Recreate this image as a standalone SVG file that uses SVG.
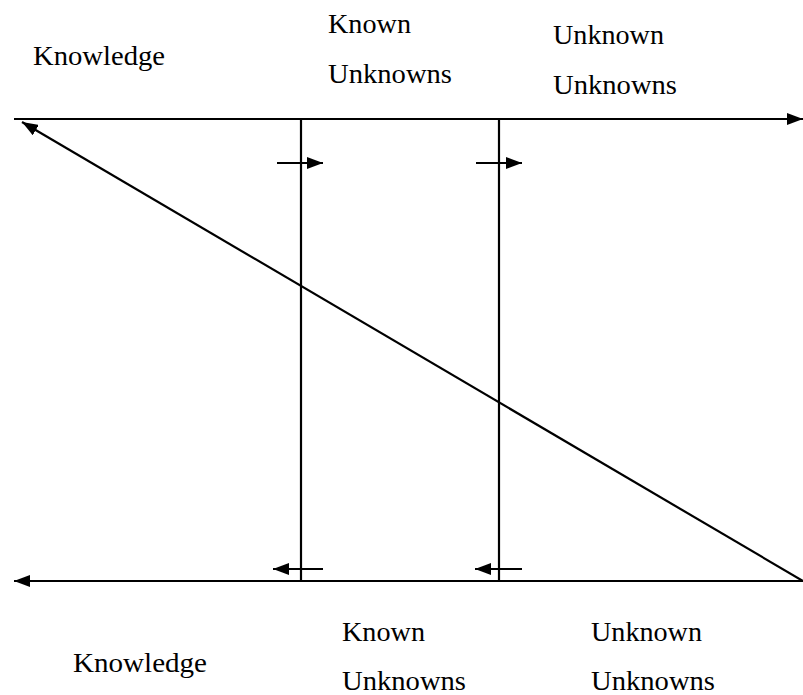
<svg xmlns="http://www.w3.org/2000/svg" width="803" height="695" viewBox="0 0 803 695">
<style>
.ln{stroke:#000;stroke-width:2.2;fill:none}
text{font-family:'Liberation Serif','Times New Roman',serif;font-size:28px;fill:#000}
</style>
<defs>
<marker id="ah" viewBox="0 0 16 12" refX="16" refY="6" markerWidth="16" markerHeight="12" markerUnits="userSpaceOnUse" orient="auto">
<path d="M0,0L16,6L0,12z" fill="#000"/>
</marker>
</defs>
<rect width="803" height="695" fill="#fff"/>
<g id="connectors">
<line class="ln" x1="14" y1="119" x2="803" y2="119" marker-end="url(#ah)"/>
<line class="ln" x1="803" y1="581" x2="14" y2="581" marker-end="url(#ah)"/>
<line class="ln" x1="301" y1="119" x2="301" y2="581"/>
<line class="ln" x1="499" y1="119" x2="499" y2="581"/>
<line class="ln" x1="803" y1="581" x2="22" y2="122" marker-end="url(#ah)"/>
<line class="ln" x1="277" y1="163" x2="323" y2="163" marker-end="url(#ah)"/>
<line class="ln" x1="476" y1="163" x2="522" y2="163" marker-end="url(#ah)"/>
<line class="ln" x1="323" y1="569" x2="273" y2="569" marker-end="url(#ah)"/>
<line class="ln" x1="522" y1="569" x2="475" y2="569" marker-end="url(#ah)"/>
</g>
<g id="top-knowledge"><text x="33" y="65" textLength="132" lengthAdjust="spacingAndGlyphs">Knowledge</text></g>
<g id="top-known-unknowns"><text x="328" y="33" textLength="83" lengthAdjust="spacingAndGlyphs">Known</text><text x="328" y="83" textLength="124" lengthAdjust="spacingAndGlyphs">Unknowns</text></g>
<g id="top-unknown-unknowns"><text x="553" y="44" textLength="111" lengthAdjust="spacingAndGlyphs">Unknown</text><text x="553" y="94" textLength="124" lengthAdjust="spacingAndGlyphs">Unknowns</text></g>
<g id="bottom-knowledge"><text x="73" y="672" textLength="134" lengthAdjust="spacingAndGlyphs">Knowledge</text></g>
<g id="bottom-known-unknowns"><text x="342" y="641" textLength="83" lengthAdjust="spacingAndGlyphs">Known</text><text x="342" y="690" textLength="124" lengthAdjust="spacingAndGlyphs">Unknowns</text></g>
<g id="bottom-unknown-unknowns"><text x="591" y="641" textLength="111" lengthAdjust="spacingAndGlyphs">Unknown</text><text x="591" y="690" textLength="124" lengthAdjust="spacingAndGlyphs">Unknowns</text></g>
</svg>
